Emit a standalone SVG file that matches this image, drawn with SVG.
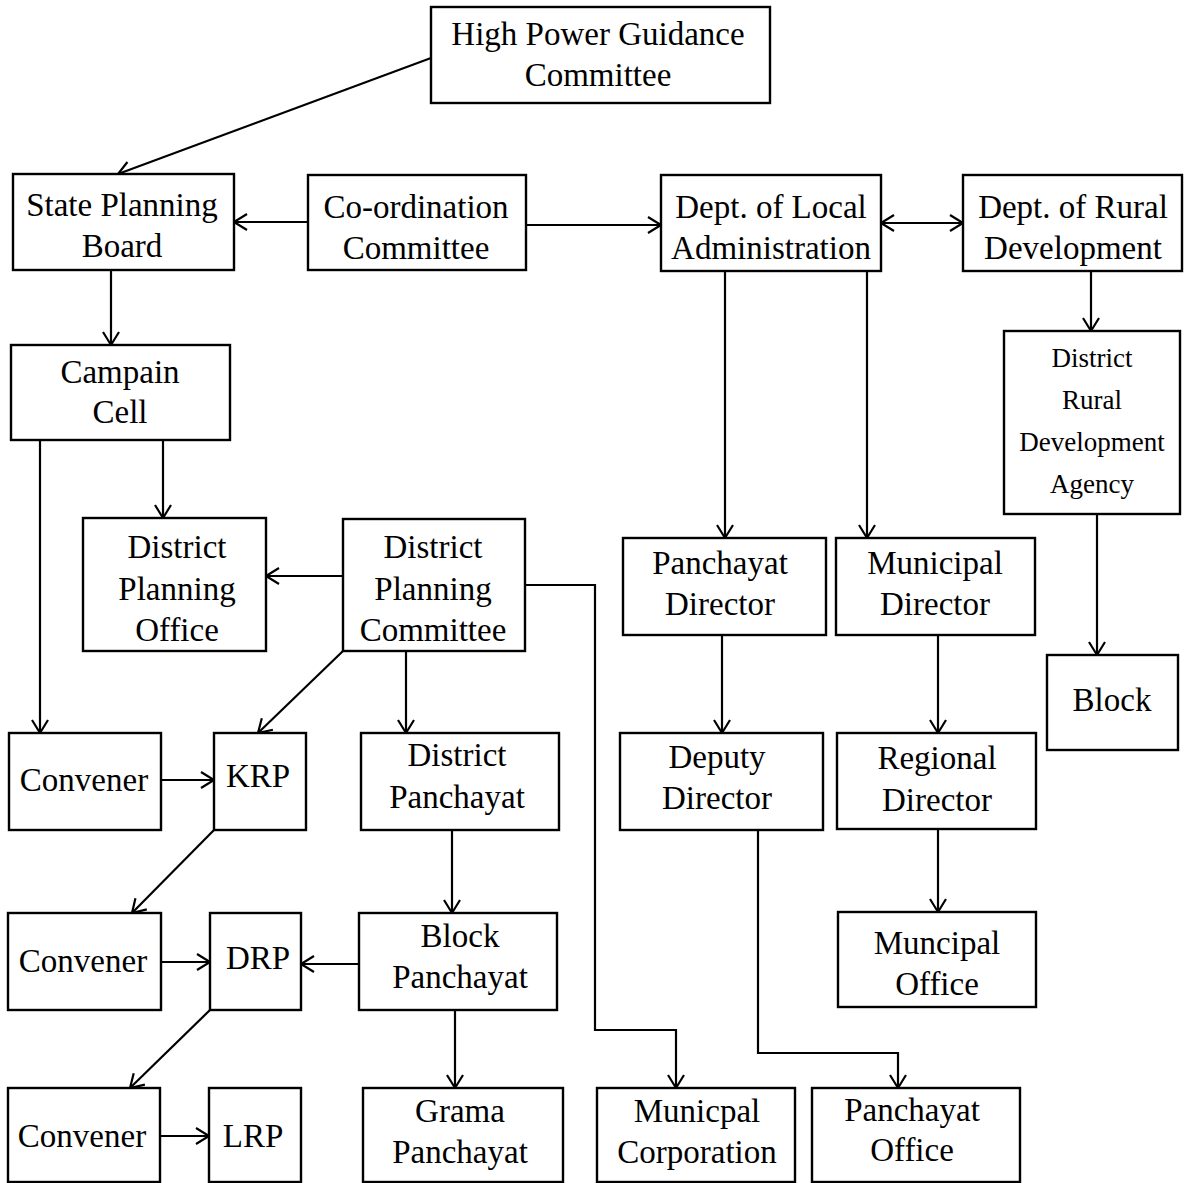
<svg xmlns="http://www.w3.org/2000/svg" width="1188" height="1183" viewBox="0 0 1188 1183">
<defs>
<style>
.n rect{fill:#fff;stroke:#000;stroke-width:2.4}
.n text{font-family:"Liberation Serif","Times New Roman",serif;font-size:33px;fill:#000;text-anchor:middle}
.n .s{font-size:27px}
#edges path{fill:none;stroke:#000;stroke-width:2.2}
#edges .a{marker-end:url(#ah)}
#edges .b{marker-start:url(#ahs);marker-end:url(#ah)}
</style>
<marker id="ah" markerUnits="userSpaceOnUse" markerWidth="20" markerHeight="20" refX="14" refY="9" orient="auto">
<path d="M1,1 L14,9 L1,17" fill="none" stroke="#000" stroke-width="2.2"/>
</marker>
<marker id="ahs" markerUnits="userSpaceOnUse" markerWidth="20" markerHeight="20" refX="14" refY="9" orient="auto-start-reverse">
<path d="M1,1 L14,9 L1,17" fill="none" stroke="#000" stroke-width="2.2"/>
</marker>
</defs>
<rect width="1188" height="1183" fill="#fff"/>
<g id="edges">
<path class="a" d="M431,58 L118,174"/>
<path class="a" d="M308,222 L234,222"/>
<path class="a" d="M526,225 L661,225"/>
<path class="b" d="M881,223 L963,223"/>
<path class="a" d="M111,270 L111,345"/>
<path class="a" d="M40,440 L40,733"/>
<path class="a" d="M163,440 L163,518"/>
<path class="a" d="M343,576 L266,576"/>
<path class="a" d="M525,585 L595,585 L595,1030 L676,1030 L676,1088"/>
<path class="a" d="M343,651 L258,733"/>
<path class="a" d="M406,651 L406,733"/>
<path class="a" d="M725,271 L725,538"/>
<path class="a" d="M867,271 L867,538"/>
<path class="a" d="M1091,271 L1091,331"/>
<path class="a" d="M1097,514 L1097,655"/>
<path class="a" d="M722,635 L722,733"/>
<path class="a" d="M938,635 L938,733"/>
<path class="a" d="M161,780 L214,780"/>
<path class="a" d="M214,830 L132,913"/>
<path class="a" d="M452,830 L452,913"/>
<path class="a" d="M938,829 L938,912"/>
<path class="a" d="M758,830 L758,1053 L898,1053 L898,1088"/>
<path class="a" d="M161,962 L210,962"/>
<path class="a" d="M359,964 L301,964"/>
<path class="a" d="M210,1010 L130,1088"/>
<path class="a" d="M455,1010 L455,1088"/>
<path class="a" d="M160,1136 L209,1136"/>
</g>
<g id="hpgc" class="n"><rect x="431" y="7" width="339" height="96"/><text x="598" y="45">High Power Guidance</text><text x="598" y="86">Committee</text></g>
<g id="spb" class="n"><rect x="13" y="174" width="221" height="96"/><text x="122" y="216">State Planning</text><text x="122" y="257">Board</text></g>
<g id="coord" class="n"><rect x="308" y="175" width="218" height="95"/><text x="416" y="218">Co-ordination</text><text x="416" y="259">Committee</text></g>
<g id="dla" class="n"><rect x="661" y="175" width="220" height="96"/><text x="771" y="218">Dept. of Local</text><text x="771" y="259">Administration</text></g>
<g id="drd" class="n"><rect x="963" y="175" width="219" height="96"/><text x="1073" y="218">Dept. of Rural</text><text x="1073" y="259">Development</text></g>
<g id="cc" class="n"><rect x="11" y="345" width="219" height="95"/><text x="120" y="383">Campain</text><text x="120" y="423">Cell</text></g>
<g id="dpo" class="n"><rect x="83" y="518" width="183" height="133"/><text x="177" y="558">District</text><text x="177" y="600">Planning</text><text x="177" y="641">Office</text></g>
<g id="dpc" class="n"><rect x="343" y="519" width="182" height="132"/><text x="433" y="558">District</text><text x="433" y="600">Planning</text><text x="433" y="641">Committee</text></g>
<g id="pd" class="n"><rect x="623" y="538" width="203" height="97"/><text x="720" y="574">Panchayat</text><text x="720" y="615">Director</text></g>
<g id="md" class="n"><rect x="836" y="538" width="199" height="97"/><text x="935" y="574">Municipal</text><text x="935" y="615">Director</text></g>
<g id="drda" class="n"><rect x="1004" y="331" width="176" height="183"/><text class="s" x="1092" y="367">District</text><text class="s" x="1092" y="409">Rural</text><text class="s" x="1092" y="451">Development</text><text class="s" x="1092" y="493">Agency</text></g>
<g id="block" class="n"><rect x="1047" y="655" width="131" height="95"/><text x="1112" y="711">Block</text></g>
<g id="conv1" class="n"><rect x="9" y="733" width="152" height="97"/><text x="84" y="791">Convener</text></g>
<g id="krp" class="n"><rect x="214" y="733" width="92" height="97"/><text x="258" y="787">KRP</text></g>
<g id="dp" class="n"><rect x="361" y="733" width="198" height="97"/><text x="457" y="766">District</text><text x="457" y="808">Panchayat</text></g>
<g id="dd" class="n"><rect x="620" y="733" width="203" height="97"/><text x="717" y="768">Deputy</text><text x="717" y="809">Director</text></g>
<g id="rd" class="n"><rect x="837" y="733" width="199" height="96"/><text x="937" y="769">Regional</text><text x="937" y="811">Director</text></g>
<g id="conv2" class="n"><rect x="8" y="913" width="153" height="97"/><text x="83" y="972">Convener</text></g>
<g id="drp" class="n"><rect x="210" y="913" width="91" height="97"/><text x="258" y="969">DRP</text></g>
<g id="bp" class="n"><rect x="359" y="913" width="198" height="97"/><text x="460" y="947">Block</text><text x="460" y="988">Panchayat</text></g>
<g id="mo" class="n"><rect x="838" y="912" width="198" height="95"/><text x="937" y="954">Muncipal</text><text x="937" y="995">Office</text></g>
<g id="conv3" class="n"><rect x="8" y="1088" width="152" height="94"/><text x="82" y="1147">Convener</text></g>
<g id="lrp" class="n"><rect x="209" y="1088" width="92" height="94"/><text x="253" y="1147">LRP</text></g>
<g id="gp" class="n"><rect x="363" y="1088" width="200" height="94"/><text x="460" y="1122">Grama</text><text x="460" y="1163">Panchayat</text></g>
<g id="mc" class="n"><rect x="597" y="1088" width="198" height="94"/><text x="697" y="1122">Municpal</text><text x="697" y="1163">Corporation</text></g>
<g id="po" class="n"><rect x="812" y="1088" width="208" height="94"/><text x="912" y="1121">Panchayat</text><text x="912" y="1161">Office</text></g>
</svg>
